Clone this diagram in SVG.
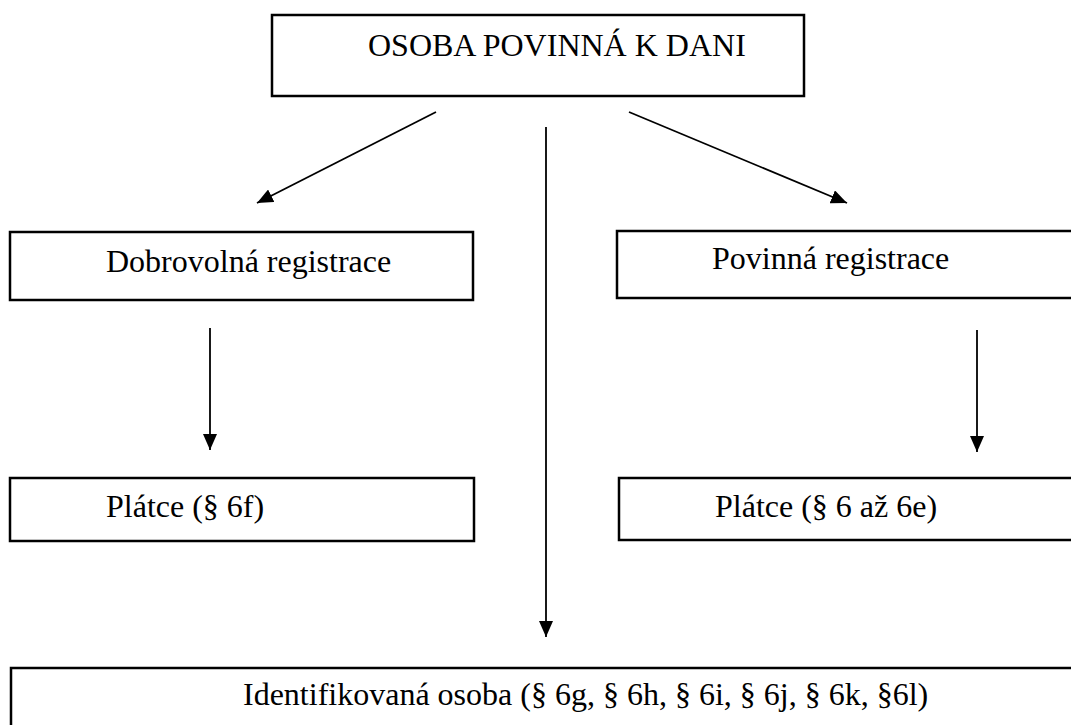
<svg xmlns="http://www.w3.org/2000/svg" width="1071" height="725" viewBox="0 0 1071 725">
  <style>
    .box { fill: #fff; stroke: #000; stroke-width: 2.5; }
    .lbl { font-family: "Liberation Serif", "Times New Roman", serif; font-size: 32px; fill: #000; }
    .con { stroke: #000; stroke-width: 1.8; fill: none; }
  </style>
  <defs>
    <marker id="ah" markerUnits="userSpaceOnUse" markerWidth="17" markerHeight="14" refX="16" refY="7" orient="auto">
      <path d="M0,0 L16,7 L0,14 Z" fill="#000"/>
    </marker>
  </defs>
  <rect width="1071" height="725" fill="#fff"/>
  <g id="n-osoba">
    <rect class="box" x="272" y="15" width="532" height="81"/>
    <text class="lbl" x="368" y="56">OSOBA POVINNÁ K DANI</text>
  </g>
  <g id="n-dobrovolna">
    <rect class="box" x="10" y="232" width="463" height="68"/>
    <text class="lbl" x="106" y="272">Dobrovolná registrace</text>
  </g>
  <g id="n-povinna">
    <rect class="box" x="617" y="231" width="470" height="67"/>
    <text class="lbl" x="712" y="269">Povinná registrace</text>
  </g>
  <g id="n-platce-6f">
    <rect class="box" x="10" y="478" width="464" height="63"/>
    <text class="lbl" x="106" y="517">Plátce (§ 6f)</text>
  </g>
  <g id="n-platce-6-6e">
    <rect class="box" x="619" y="478" width="470" height="62"/>
    <text class="lbl" x="715" y="517">Plátce (§ 6 až 6e)</text>
  </g>
  <g id="n-identifikovana">
    <rect class="box" x="11" y="668" width="1080" height="80"/>
    <text class="lbl" x="243" y="705">Identifikovaná osoba (§ 6g, § 6h, § 6i, § 6j, § 6k, §6l)</text>
  </g>
  <g id="connectors">
    <line class="con" x1="436" y1="112" x2="257" y2="203" marker-end="url(#ah)"/>
    <line class="con" x1="629" y1="112" x2="847" y2="203" marker-end="url(#ah)"/>
    <line class="con" x1="546" y1="127" x2="546" y2="637" marker-end="url(#ah)"/>
    <line class="con" x1="210" y1="328" x2="210" y2="450" marker-end="url(#ah)"/>
    <line class="con" x1="977" y1="330" x2="977" y2="452" marker-end="url(#ah)"/>
  </g>
</svg>
